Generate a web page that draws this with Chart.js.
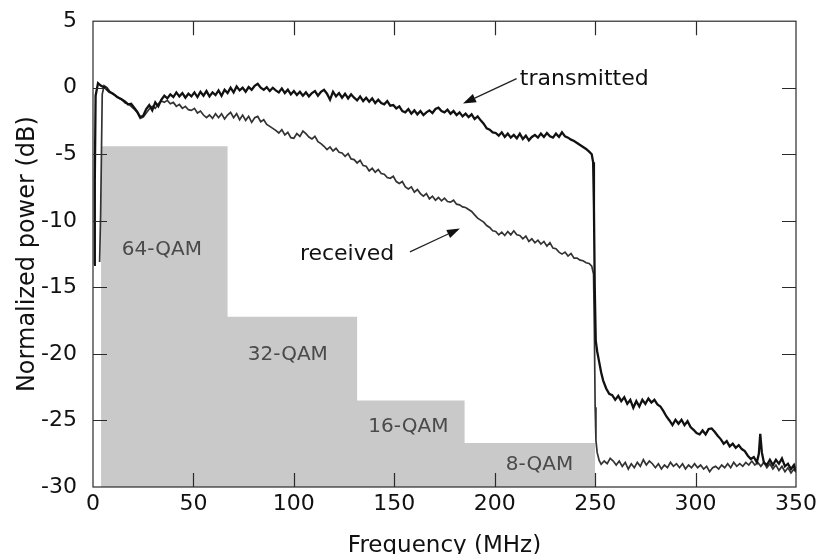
<!DOCTYPE html>
<html>
<head>
<meta charset="utf-8">
<script src="https://cdn.jsdelivr.net/npm/chart.js@4.4.1/dist/chart.umd.min.js"></script>
<style>
  html, body { margin: 0; padding: 0; background: #fff; }
  canvas { display: block; }
</style>
</head>
<body>
<canvas id="myChart" width="820" height="554"></canvas>
<script>
// transmitted spectrum (MHz, dB)
const freqTx = [0.5, 0.9, 1.3, 2.5, 4, 6, 8, 10, 12, 14, 16, 17.5, 19, 20.5, 22, 23.5, 25, 26.5, 28, 29.5,
  31, 32.5, 34, 35.5, 37, 38.5, 40, 41.5, 43, 44.5, 46, 47.5, 49, 50.5, 52, 53.5, 55, 56.5, 58, 59.5,
  61, 62.5, 64, 65.5, 67, 68.5, 70, 71.5, 73, 74.5, 76, 77.5, 79, 80.5, 82, 83.5, 85, 86.5, 88, 89.5,
  91, 92.5, 94, 95.5, 97, 98.5, 100, 101.5, 103, 104.5, 106, 107.5, 109, 110.5, 112, 113.5, 115, 116.5, 118, 119.5,
  121, 122.5, 124, 125.5, 127, 128.5, 130, 131.5, 133, 134.5, 136, 137.5, 139, 140.5, 142, 143.5, 145, 146.5, 148, 149.5,
  151, 152.5, 154, 155.5, 157, 158.5, 160, 161.5, 163, 164.5, 166, 167.5, 169, 170.5, 172, 173.5, 175, 176.5, 178, 179.5,
  181, 182.5, 184, 185.5, 187, 188.5, 190, 191.5, 193, 194.5, 196, 197.5, 199, 200.5, 202, 203.5, 205, 206.5, 208, 209.5,
  211, 212.5, 214, 215.5, 217, 218.5, 220, 221.5, 223, 224.5, 226, 227.5, 229, 230.5, 232, 233.5, 235, 236.5, 238, 239.5,
  241, 242.5, 244, 245.5, 247, 248.3, 249, 249.4, 249.8, 250.3, 251, 252, 253, 254, 255.5, 257, 258.5,
  260, 261.5, 263, 264.5, 266, 267.5, 269, 270.5, 272, 273.5, 275, 276.5, 278, 279.5,
  281, 282.5, 284, 285.5, 287, 288.5, 290, 291.5, 293, 294.5, 296, 297.5, 299, 300.5, 302, 303.5, 305, 306.5, 308, 309.5,
  311, 312.5, 314, 315.5, 317, 318.5, 320, 321.5, 323, 324.5, 326, 327.5, 329, 330.5, 331.5, 332.2, 333, 334, 335.5, 337, 338.5,
  340, 341.5, 343, 344.5, 346, 347.5, 349, 350];
const powerTx = [-13.3, -7.0, -0.6, 0.35, 0.15, 0.0, -0.3, -0.45, -0.7, -0.85, -1.05, -1.25, -1.2, -1.5, -1.8, -2.2, -2.1, -1.6, -1.3, -1.7,
  -1.1, -1.4, -0.9, -0.6, -0.8, -0.5, -0.7, -0.35, -0.65, -0.4, -0.75, -0.45, -0.65, -0.35, -0.7, -0.3, -0.6, -0.25, -0.65, -0.35,
  -0.55, -0.2, -0.6, -0.15, -0.4, 0.0, -0.35, 0.1, -0.2, 0.0, -0.3, 0.05, -0.15, 0.15, 0.3, 0.0, -0.15, 0.05, -0.25, 0.0,
  -0.2, -0.35, -0.05, -0.4, -0.15, -0.5, -0.25, -0.55, -0.3, -0.6, -0.35, -0.65, -0.4, -0.25, -0.6, -0.3, -0.15, -0.45, -0.9, -0.3,
  -0.65, -0.4, -0.75, -0.45, -0.8, -0.5, -0.75, -0.95, -0.65, -1.0, -0.75, -1.05, -0.8, -1.15, -0.9, -1.15, -1.25, -1.0, -1.35, -1.3,
  -1.55, -1.4, -1.75, -1.85, -1.6, -1.95, -1.7, -2.0, -1.75, -2.05, -1.85, -1.7, -1.9, -1.6, -1.5, -1.75, -1.85, -1.65, -1.95, -1.75,
  -2.05, -1.85, -2.15, -1.95, -2.2, -2.0, -2.35, -2.15, -2.45, -2.7, -3.05, -3.15, -3.35, -3.4, -3.6, -3.35, -3.7, -3.45, -3.75, -3.55,
  -3.8, -3.45, -3.85, -3.6, -3.95, -3.7, -3.55, -3.75, -3.45, -3.7, -3.4, -3.65, -3.75, -3.45, -3.7, -3.35, -3.65, -3.75, -3.9, -4.0,
  -4.15, -4.3, -4.45, -4.6, -4.8, -5.0, -5.6, -9, -15, -19, -19.8, -20.6, -21.4, -22.0, -22.6, -23.0, -23.1,
  -23.45, -23.15, -23.55, -23.25, -23.75, -23.45, -24.05, -23.55, -23.95, -23.45, -23.75, -23.35, -23.65, -23.45,
  -23.8, -23.95, -24.3, -24.7, -25.0, -25.35, -24.95, -25.25, -24.95, -25.35, -25.05, -25.5, -25.7, -25.95, -26.05, -25.75, -26.05, -25.65, -25.6, -25.85,
  -26.15, -26.4, -26.75, -26.55, -26.95, -26.75, -27.05, -26.85, -27.15, -27.3, -27.65, -27.9, -27.75, -28.15, -27.5, -26.0, -27.4, -28.15, -28.35, -27.95, -28.35,
  -27.95, -28.25, -27.85, -28.45, -28.25, -28.65, -28.35, -28.8];

// received spectrum (MHz, dB)
const freqRx = [3.3, 3.8, 4.2, 4.6, 5.5, 7, 8.5, 10, 11.5, 13, 14.5, 16, 17.5, 19, 20.5, 22, 23.5, 25, 26.5, 28, 29.5,
  31, 32.5, 34, 35.5, 37, 38.5, 40, 41.5, 43, 44.5, 46, 47.5, 49, 50.5, 52, 53.5, 55, 56.5, 58, 59.5,
  61, 62.5, 64, 65.5, 67, 68.5, 70, 71.5, 73, 74.5, 76, 77.5, 79, 80.5, 82, 83.5, 85, 86.5, 88, 89.5,
  91, 92.5, 94, 95.5, 97, 98.5, 100, 101.5, 103, 104.5, 106, 107.5, 109, 110.5, 112, 113.5, 115, 116.5, 118, 119.5,
  121, 122.5, 124, 125.5, 127, 128.5, 130, 131.5, 133, 134.5, 136, 137.5, 139, 140.5, 142, 143.5, 145, 146.5, 148, 149.5,
  151, 152.5, 154, 155.5, 157, 158.5, 160, 161.5, 163, 164.5, 166, 167.5, 169, 170.5, 172, 173.5, 175, 176.5, 178, 179.5,
  181, 182.5, 184, 185.5, 187, 188.5, 190, 191.5, 193, 194.5, 196, 197.5, 199, 200.5, 202, 203.5, 205, 206.5, 208, 209.5,
  211, 212.5, 214, 215.5, 217, 218.5, 220, 221.5, 223, 224.5, 226, 227.5, 229, 230.5, 232, 233.5, 235, 236.5, 238, 239.5,
  241, 242.5, 244, 245.5, 247, 248.3, 249.2, 249.6, 250, 250.4, 251, 252, 253, 254.5, 256, 257.5, 259,
  260.5, 262, 263.5, 265, 266.5, 268, 269.5, 271, 272.5, 274, 275.5, 277, 278.5, 280, 281.5, 283, 284.5, 286, 287.5, 289,
  290.5, 292, 293.5, 295, 296.5, 298, 299.5, 301, 302.5, 304, 305.5, 307, 308.5, 310, 311.5, 313, 314.5, 316, 317.5, 319,
  320.5, 322, 323.5, 325, 326.5, 328, 329.5, 331, 332.5, 334, 335.5, 337, 338.5, 340, 341.5, 343, 344.5, 346, 347.5, 349, 350];
const powerRx = [-13.1, -9.5, -5, -0.5, 0.15, 0.0, -0.3, -0.5, -0.6, -0.8, -0.9, -1.15, -1.2, -1.4, -1.6, -1.85, -2.3, -2.2, -1.9, -1.6, -1.4,
  -1.55, -1.2, -1.0, -1.1, -0.95, -1.2, -1.1, -1.4, -1.25, -1.55, -1.4, -1.65, -1.7, -1.55, -1.9, -1.75, -2.05, -2.25, -2.05, -2.3,
  -1.95, -2.25, -1.95, -2.35, -2.05, -1.85, -2.25, -1.95, -2.4, -2.05, -2.45, -2.15, -2.6, -2.25, -2.15, -2.55, -2.4, -2.75, -2.9, -3.05,
  -3.2, -3.4, -3.15, -3.55, -3.35, -3.75, -3.8, -3.45, -3.65, -3.25, -3.45, -3.7, -3.85, -3.65, -4.05, -4.2, -4.4, -4.65, -4.45, -4.75,
  -4.55, -4.85, -4.9, -5.15, -4.95, -5.35, -5.4, -5.65, -5.45, -5.85, -5.9, -6.25, -6.05, -6.35, -6.15, -6.45, -6.5, -6.75, -6.8, -6.65,
  -7.05, -7.2, -7.05, -7.45, -7.6, -7.45, -7.85, -7.65, -7.95, -8.15, -7.95, -8.35, -8.15, -8.45, -8.25, -8.5, -8.3, -8.55, -8.6, -8.45,
  -8.75, -8.8, -8.95, -9.0, -9.15, -9.3, -9.55, -9.8, -9.95, -10.1, -10.35, -10.5, -10.75, -10.8, -11.05, -10.85, -11.1, -10.8, -11.05, -10.75,
  -11.05, -11.1, -11.35, -11.15, -11.55, -11.35, -11.65, -11.45, -11.75, -11.55, -11.9, -11.65, -12.05, -12.1, -12.35, -12.5, -12.35, -12.65, -12.45, -12.8,
  -12.8, -12.95, -13.0, -13.15, -13.2, -13.4, -14.0, -18, -24, -26.5, -27.4, -28.0, -28.3, -28.05, -28.25, -27.85, -28.05,
  -28.35, -28.05, -28.45, -28.15, -28.65, -28.25, -28.55, -28.15, -28.45, -27.95, -28.35, -28.05, -28.25, -28.55, -28.25, -28.65, -28.35, -28.55, -28.15, -28.45,
  -28.25, -28.55, -28.25, -28.65, -28.35, -28.55, -28.25, -28.55, -28.35, -28.65, -28.45, -28.85, -28.55, -28.45, -28.65, -28.35, -28.55, -28.25, -28.55, -28.15,
  -28.45, -28.25, -28.45, -28.15, -28.35, -28.05, -28.35, -28.15, -28.45, -28.15, -28.55, -28.25, -28.65, -28.35, -28.75, -28.45, -28.85, -28.55, -28.95, -28.65, -28.9];

// modulation format per sub-band: band edges (MHz) and required power level (dB)
const qamEdges = [4, 67, 131.5, 185, 250];
const qamLevels = [-4.4, -17.2, -23.5, -26.7];
const qamLabels = ['64-QAM', '32-QAM', '16-QAM', '8-QAM'];
const qamLabelX = [34.3, 97, 157, 222.3];
const qamLabelY = [-12.2, -20.05, -25.5, -28.35];

const xTicks = [0, 50, 100, 150, 200, 250, 300, 350];
const yTicks = [-30, -25, -20, -15, -10, -5, 0, 5];

// arrow callouts, in data units
const callouts = [
  { text: 'transmitted', tx: 212.5, ty: 0.62, from: [210.9, 0.68], to: [184.2, -1.19] },
  { text: 'received', tx: 103, ty: -12.5, from: [157.8, -12.33], to: [182.7, -10.58] }
];

const toXY = (xs, ys) => xs.map((x, i) => ({ x: x, y: ys[i] }));

const qamData = qamEdges.map((x, i) => ({ x: x, y: qamLevels[Math.min(i, qamLevels.length - 1)] }));

const FONT = '"DejaVu Sans", Verdana, sans-serif';
Chart.defaults.font.family = FONT;
Chart.defaults.color = '#111';

const TICK_LEN = 14;

// MATLAB style box with inward ticks on all four sides
const boxTicks = {
  id: 'boxTicks',
  afterDatasetsDraw(chart) {
    const { ctx, chartArea: a, scales: { x, y } } = chart;
    ctx.save();
    ctx.strokeStyle = '#2a2a2a';
    ctx.lineWidth = 1.2;
    ctx.strokeRect(a.left, a.top, a.right - a.left, a.bottom - a.top);
    ctx.beginPath();
    xTicks.forEach(v => {
      if (v <= x.min || v >= x.max) return;
      const px = Math.round(x.getPixelForValue(v)) + 0.5;
      ctx.moveTo(px, a.bottom); ctx.lineTo(px, a.bottom - TICK_LEN);
      ctx.moveTo(px, a.top); ctx.lineTo(px, a.top + TICK_LEN);
    });
    yTicks.forEach(v => {
      if (v <= y.min || v >= y.max) return;
      const py = Math.round(y.getPixelForValue(v)) + 0.5;
      ctx.moveTo(a.left, py); ctx.lineTo(a.left + TICK_LEN, py);
      ctx.moveTo(a.right, py); ctx.lineTo(a.right - TICK_LEN, py);
    });
    ctx.stroke();
    ctx.restore();
  }
};

// band labels and arrow callouts
const notes = {
  id: 'notes',
  afterDatasetsDraw(chart) {
    const { ctx, scales: { x, y } } = chart;
    ctx.save();
    ctx.font = '20px ' + FONT;
    ctx.fillStyle = '#4a4a4a';
    ctx.textAlign = 'center';
    ctx.textBaseline = 'middle';
    qamLabels.forEach((t, i) => {
      ctx.fillText(t, x.getPixelForValue(qamLabelX[i]), y.getPixelForValue(qamLabelY[i]));
    });

    ctx.font = '22px ' + FONT;
    ctx.strokeStyle = '#222';
    ctx.lineWidth = 1.3;
    ctx.textAlign = 'left';
    callouts.forEach(c => {
      ctx.fillStyle = '#111';
      ctx.fillText(c.text, x.getPixelForValue(c.tx), y.getPixelForValue(c.ty));
      const x0 = x.getPixelForValue(c.from[0]), y0 = y.getPixelForValue(c.from[1]);
      const x1 = x.getPixelForValue(c.to[0]), y1 = y.getPixelForValue(c.to[1]);
      const ang = Math.atan2(y1 - y0, x1 - x0);
      const head = 13, half = 4.5;
      const bx = x1 - head * Math.cos(ang), by = y1 - head * Math.sin(ang);
      ctx.beginPath();
      ctx.moveTo(x0, y0); ctx.lineTo(bx, by);
      ctx.stroke();
      ctx.beginPath();
      ctx.moveTo(x1, y1);
      ctx.lineTo(bx + half * Math.sin(ang), by - half * Math.cos(ang));
      ctx.lineTo(bx - half * Math.sin(ang), by + half * Math.cos(ang));
      ctx.closePath();
      ctx.fill();
    });
    ctx.restore();
  }
};

const ctx = document.getElementById('myChart').getContext('2d');
window.myLine = new Chart(ctx, {
  type: 'line',
  data: {
    datasets: [{
      label: 'transmitted',
      data: toXY(freqTx, powerTx),
      borderColor: '#111',
      borderWidth: 2.3,
      pointRadius: 0,
      tension: 0,
      order: 1
    }, {
      label: 'received',
      data: toXY(freqRx, powerRx),
      borderColor: '#333',
      borderWidth: 1.7,
      pointRadius: 0,
      tension: 0,
      order: 2
    }, {
      label: 'QAM',
      data: qamData,
      stepped: 'before',
      borderWidth: 0,
      borderColor: 'rgba(0,0,0,0)',
      backgroundColor: '#c9c9c9',
      fill: 'start',
      pointRadius: 0,
      order: 3
    }]
  },
  options: {
    responsive: false,
    animation: false,
    devicePixelRatio: 1,
    layout: { padding: { left: 0, right: 24, top: 19, bottom: 0 } },
    plugins: {
      legend: { display: false },
      tooltip: { enabled: false }
    },
    scales: {
      x: {
        type: 'linear',
        min: 0,
        max: 350,
        afterBuildTicks: s => { s.ticks = xTicks.map(v => ({ value: v })); },
        afterFit: s => { s.height = 67; },
        grid: { display: false },
        border: { display: false },
        ticks: { font: { size: 22 }, color: '#111', padding: -4, maxRotation: 0 },
        title: { display: true, text: 'Frequency (MHz)', font: { size: 23, lineHeight: 0.7 }, color: '#111', padding: 0 }
      },
      y: {
        type: 'linear',
        min: -30,
        max: 5,
        afterBuildTicks: s => { s.ticks = yTicks.map(v => ({ value: v })); },
        afterFit: s => { s.width = 93; },
        grid: { display: false },
        border: { display: false },
        ticks: { font: { size: 22 }, color: '#111', padding: 8 },
        title: { display: true, text: 'Normalized power (dB)', font: { size: 24 }, color: '#111', padding: { top: 13, bottom: 0 } }
      }
    }
  },
  plugins: [boxTicks, notes]
});
</script>
</body>
</html>
